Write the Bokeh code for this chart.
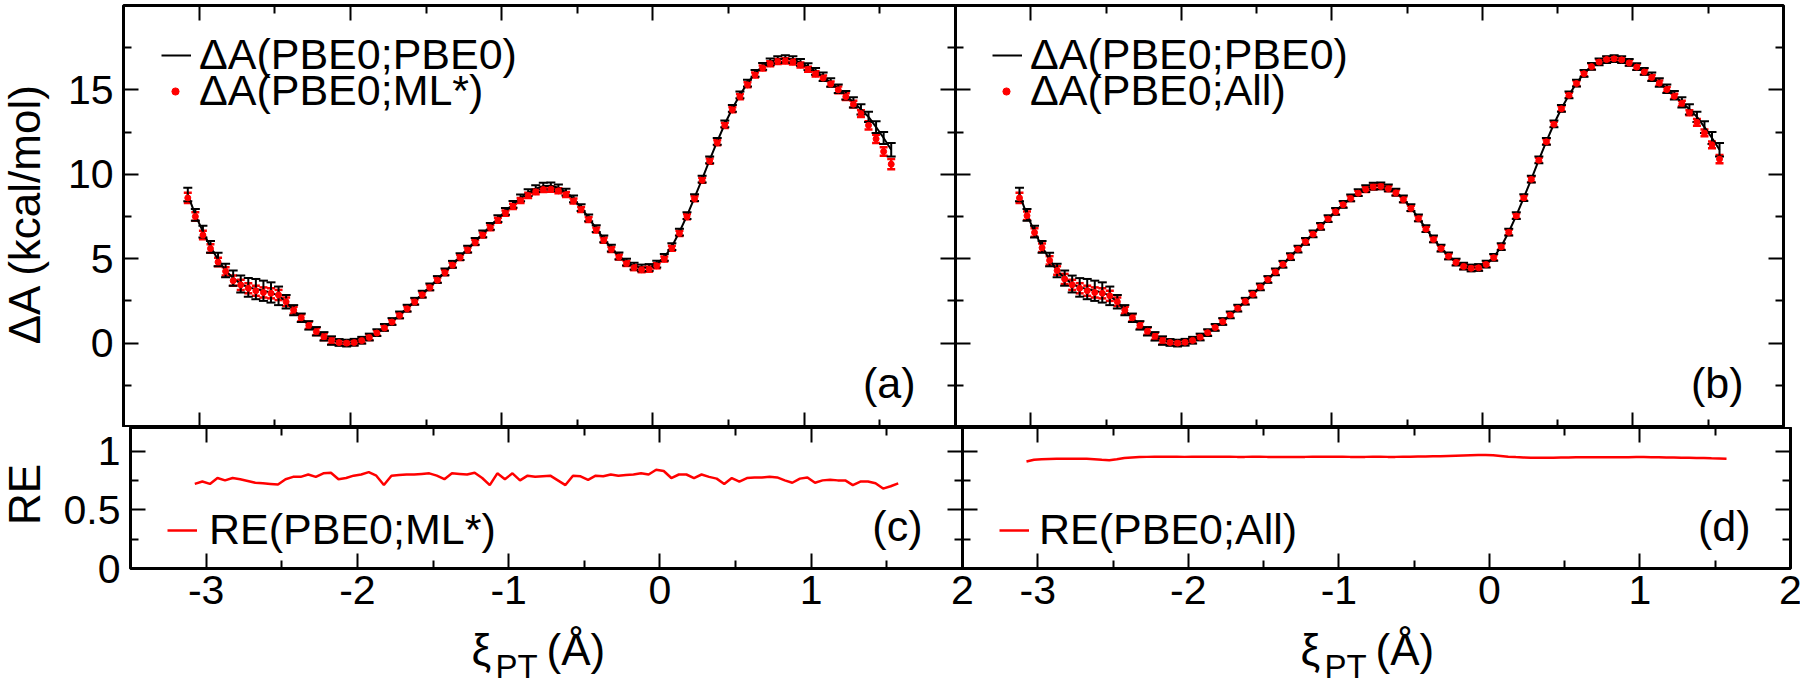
import math
from bokeh.plotting import figure
from bokeh.models import (Range1d, LinearAxis, FixedTicker, ColumnDataSource, Whisker,
                          TeeHead, Legend, LegendItem, Label)
from bokeh.layouts import column, row
from bokeh.embed import file_html
from bokeh.resources import INLINE

# ---------------- data ----------------
XI = [-3.075, -3.025, -2.975, -2.925, -2.875, -2.825, -2.775, -2.725, -2.675, -2.625,
      -2.575, -2.525, -2.475, -2.425, -2.375, -2.325, -2.275, -2.225, -2.175, -2.125,
      -2.075, -2.025, -1.975, -1.925, -1.875, -1.825, -1.775, -1.725, -1.675, -1.625,
      -1.575, -1.525, -1.475, -1.425, -1.375, -1.325, -1.275, -1.225, -1.175, -1.125,
      -1.075, -1.025, -0.975, -0.925, -0.875, -0.825, -0.775, -0.725, -0.675, -0.625,
      -0.575, -0.525, -0.475, -0.425, -0.375, -0.325, -0.275, -0.225, -0.175, -0.125,
      -0.075, -0.025, 0.025, 0.075, 0.125, 0.175, 0.225, 0.275, 0.325, 0.375,
      0.425, 0.475, 0.525, 0.575, 0.625, 0.675, 0.725, 0.775, 0.825, 0.875,
      0.925, 0.975, 1.025, 1.075, 1.125, 1.175, 1.225, 1.275, 1.325, 1.375,
      1.425, 1.475, 1.525, 1.575]

DA_PBE0 = [8.8, 7.6, 6.6, 5.7, 4.95, 4.3, 3.85, 3.5, 3.3, 3.2,
           3.1, 3.0, 2.8, 2.45, 1.95, 1.5, 1.05, 0.7, 0.4, 0.15,
           0.04, 0.0, 0.05, 0.17, 0.36, 0.62, 0.93, 1.28, 1.67, 2.07,
           2.48, 2.9, 3.33, 3.77, 4.22, 4.67, 5.12, 5.57, 6.02, 6.47,
           6.92, 7.37, 7.8, 8.22, 8.6, 8.92, 9.15, 9.3, 9.32, 9.2,
           8.95, 8.55, 8.02, 7.42, 6.78, 6.17, 5.62, 5.16, 4.8, 4.56,
           4.45, 4.48, 4.68, 5.08, 5.72, 6.58, 7.55, 8.62, 9.72, 10.85,
           11.95, 12.98, 13.9, 14.7, 15.4, 15.98, 16.4, 16.66, 16.8, 16.85,
           16.8, 16.63, 16.38, 16.1, 15.78, 15.44, 15.07, 14.68, 14.26, 13.85,
           13.4, 12.8, 12.15, 11.45]
DA_PBE0_ERR = [0.4, 0.35, 0.35, 0.35, 0.4, 0.4, 0.45, 0.5, 0.55, 0.6,
               0.6, 0.6, 0.55, 0.4, 0.3, 0.25, 0.25, 0.25, 0.25, 0.25,
               0.2, 0.2, 0.2, 0.2, 0.2, 0.2, 0.2, 0.2, 0.2, 0.2,
               0.2, 0.2, 0.2, 0.2, 0.2, 0.2, 0.2, 0.2, 0.2, 0.2,
               0.2, 0.2, 0.2, 0.2, 0.2, 0.2, 0.2, 0.2, 0.2, 0.2,
               0.2, 0.2, 0.2, 0.2, 0.2, 0.2, 0.2, 0.2, 0.2, 0.2,
               0.2, 0.2, 0.2, 0.2, 0.2, 0.2, 0.2, 0.2, 0.2, 0.2,
               0.2, 0.2, 0.2, 0.2, 0.2, 0.2, 0.2, 0.2, 0.2, 0.2,
               0.2, 0.2, 0.2, 0.2, 0.25, 0.25, 0.25, 0.25, 0.3, 0.3,
               0.3, 0.35, 0.35, 0.4]

DA_ML = [8.6, 7.5, 6.4, 5.6, 4.8, 4.25, 3.7, 3.45, 3.25, 3.1,
         3.0, 2.95, 2.85, 2.45, 1.95, 1.5, 1.05, 0.68, 0.38, 0.15,
         0.03, 0.0, 0.03, 0.15, 0.33, 0.6, 0.9, 1.25, 1.63, 2.03,
         2.44, 2.86, 3.29, 3.73, 4.17, 4.62, 5.07, 5.52, 5.96, 6.4,
         6.84, 7.28, 7.7, 8.1, 8.45, 8.75, 8.97, 9.1, 9.12, 9.02,
         8.8, 8.42, 7.92, 7.32, 6.7, 6.1, 5.55, 5.1, 4.72, 4.47,
         4.35, 4.38, 4.58, 4.98, 5.62, 6.5, 7.48, 8.55, 9.65, 10.78,
         11.87, 12.9, 13.82, 14.6, 15.3, 15.88, 16.3, 16.55, 16.68, 16.72,
         16.66, 16.48, 16.22, 15.95, 15.7, 15.35, 15.0, 14.6, 14.15, 13.6,
         12.9, 12.1, 11.35, 10.6]
DA_ML_ERR = [0.3, 0.25, 0.25, 0.25, 0.25, 0.25, 0.3, 0.3, 0.3, 0.3,
             0.3, 0.3, 0.3, 0.25, 0.2, 0.2, 0.2, 0.2, 0.2, 0.2,
             0.15, 0.15, 0.15, 0.15, 0.15, 0.15, 0.15, 0.15, 0.15, 0.15,
             0.15, 0.15, 0.15, 0.15, 0.15, 0.15, 0.15, 0.15, 0.15, 0.15,
             0.15, 0.15, 0.15, 0.15, 0.15, 0.15, 0.15, 0.15, 0.15, 0.15,
             0.15, 0.15, 0.15, 0.15, 0.15, 0.15, 0.15, 0.15, 0.15, 0.15,
             0.15, 0.15, 0.15, 0.15, 0.15, 0.15, 0.15, 0.15, 0.15, 0.15,
             0.15, 0.15, 0.15, 0.15, 0.15, 0.15, 0.15, 0.15, 0.15, 0.15,
             0.15, 0.15, 0.15, 0.15, 0.15, 0.15, 0.2, 0.2, 0.2, 0.2,
             0.25, 0.25, 0.25, 0.3]

DA_ALL = [8.6, 7.55, 6.55, 5.65, 4.9, 4.3, 3.8, 3.45, 3.25, 3.1,
          3.0, 2.95, 2.8, 2.45, 1.95, 1.5, 1.05, 0.7, 0.4, 0.15,
          0.04, 0.0, 0.05, 0.16, 0.35, 0.62, 0.92, 1.27, 1.66, 2.06,
          2.47, 2.89, 3.32, 3.76, 4.21, 4.66, 5.11, 5.56, 6.0, 6.45,
          6.9, 7.35, 7.78, 8.2, 8.57, 8.88, 9.1, 9.25, 9.28, 9.15,
          8.9, 8.5, 7.98, 7.38, 6.75, 6.14, 5.6, 5.14, 4.78, 4.54,
          4.43, 4.46, 4.66, 5.06, 5.7, 6.56, 7.53, 8.6, 9.7, 10.83,
          11.93, 12.96, 13.88, 14.68, 15.38, 15.96, 16.38, 16.65, 16.8, 16.84,
          16.78, 16.6, 16.35, 16.06, 15.74, 15.4, 15.02, 14.62, 14.2, 13.65,
          13.08, 12.45, 11.75, 10.9]
DA_ALL_ERR = [0.3, 0.25, 0.25, 0.25, 0.25, 0.25, 0.3, 0.3, 0.3, 0.3,
              0.3, 0.3, 0.3, 0.25, 0.2, 0.2, 0.2, 0.2, 0.2, 0.2,
              0.15, 0.15, 0.15, 0.15, 0.15, 0.15, 0.15, 0.15, 0.15, 0.15,
              0.15, 0.15, 0.15, 0.15, 0.15, 0.15, 0.15, 0.15, 0.15, 0.15,
              0.15, 0.15, 0.15, 0.15, 0.15, 0.15, 0.15, 0.15, 0.15, 0.15,
              0.15, 0.15, 0.15, 0.15, 0.15, 0.15, 0.15, 0.15, 0.15, 0.15,
              0.15, 0.15, 0.15, 0.15, 0.15, 0.15, 0.15, 0.15, 0.15, 0.15,
              0.15, 0.15, 0.15, 0.15, 0.15, 0.15, 0.15, 0.15, 0.15, 0.15,
              0.15, 0.15, 0.15, 0.15, 0.15, 0.15, 0.15, 0.15, 0.15, 0.15,
              0.2, 0.2, 0.2, 0.25]

RE_ML = [0.72, 0.74, 0.72, 0.77, 0.75, 0.77, 0.76, 0.745, 0.73, 0.725,
         0.72, 0.715, 0.76, 0.78, 0.78, 0.80, 0.78, 0.81, 0.815, 0.76,
         0.77, 0.79, 0.80, 0.82, 0.79, 0.71, 0.79, 0.795, 0.80, 0.80,
         0.805, 0.81, 0.79, 0.76, 0.81, 0.805, 0.80, 0.815, 0.77, 0.71,
         0.81, 0.76, 0.81, 0.75, 0.79, 0.78, 0.785, 0.79, 0.75, 0.71,
         0.79, 0.785, 0.755, 0.79, 0.785, 0.80, 0.79, 0.795, 0.80, 0.81,
         0.80, 0.84, 0.83, 0.77, 0.80, 0.80, 0.77, 0.80, 0.78, 0.765,
         0.72, 0.77, 0.74, 0.77, 0.775, 0.775, 0.78, 0.775, 0.75, 0.73,
         0.765, 0.775, 0.73, 0.75, 0.755, 0.75, 0.75, 0.71, 0.74, 0.74,
         0.725, 0.68, 0.70, 0.725]

RE_ALL = [0.91, 0.925, 0.93, 0.932, 0.933, 0.934, 0.934, 0.933, 0.933, 0.93,
          0.925, 0.922, 0.93, 0.94, 0.945, 0.948, 0.95, 0.951, 0.952, 0.952,
          0.951, 0.95, 0.951, 0.952, 0.952, 0.952, 0.951, 0.951, 0.95, 0.95,
          0.951, 0.951, 0.95, 0.95, 0.949, 0.949, 0.95, 0.95, 0.951, 0.951,
          0.952, 0.952, 0.951, 0.95, 0.95, 0.95, 0.951, 0.951, 0.95, 0.95,
          0.951, 0.952, 0.953, 0.954, 0.955, 0.956, 0.958, 0.96, 0.962, 0.964,
          0.965, 0.966, 0.963, 0.958, 0.952, 0.948, 0.945, 0.943, 0.942, 0.942,
          0.943, 0.944, 0.945, 0.946, 0.946, 0.947, 0.947, 0.947, 0.946, 0.946,
          0.947, 0.948, 0.948, 0.947, 0.946, 0.945, 0.944, 0.943, 0.942, 0.941,
          0.94, 0.938, 0.937, 0.935]

X_MAJOR = [-3, -2, -1, 0, 1, 2]
X_LABELS = ["-3", "-2", "-1", "0", "1", "2"]
X_MINOR = [-3.5, -2.5, -1.5, -0.5, 0.5, 1.5]
DA_MAJOR = [0, 5, 10, 15]
DA_LABELS = ["0", "5", "10", "15"]
DA_MINOR = [-2.5, 2.5, 7.5, 12.5, 17.5]
RE_MAJOR = [0, 0.5, 1]
RE_LABELS = ["0", "0.5", "1"]
RE_MINOR = [0.25, 0.75]

X_RANGE = (-3.5, 2.0)
DA_RANGE = (-5.0, 20.0)
RE_RANGE = (0.0, 1.2)

# ---------------- style / layout ----------------
FONT = "Liberation Sans"
RED = "#ff0000"
TICK_FS = "41px"
TEXT_FS = "43px"
YSTRIP_W = 60
FRAME_WL = 832
FRAME_WR = 828
RIGHT_BORDER = 17
TOP_BORDER = 5
FRAME_HT = 422
FRAME_HB = 141
BOT_BORDER = 62
XSTRIP_H = 64
XSTRIP_OVERLAP = 8
BASE_CORR = 16  # empirical shift of the alphabetic baseline of Label


def make_fig(frame_w, frame_h, yr, left, right, top, bottom, shift=False):
    kw = {}
    if shift:
        kw["margin"] = (0, 0, 0, -20)
    p = figure(frame_width=frame_w, frame_height=frame_h,
               x_range=Range1d(*X_RANGE), y_range=Range1d(*yr),
               x_axis_location=None, y_axis_location=None,
               toolbar_location=None, output_backend="svg",
               min_border_left=left, min_border_right=right,
               min_border_top=top, min_border_bottom=bottom, **kw)
    p.grid.visible = False
    p.outline_line_color = "black"
    p.outline_line_width = 3
    p.outline_line_alpha = 1.0
    p.border_fill_color = None
    p.background_fill_color = None
    return p


def strip(w, h, **kw):
    p = figure(width=w, height=h, x_range=Range1d(0, 1), y_range=Range1d(0, 1),
               x_axis_location=None, y_axis_location=None, toolbar_location=None,
               output_backend="svg", min_border=0, **kw)
    p.grid.visible = False
    p.outline_line_color = None
    p.border_fill_color = None
    p.background_fill_color = None
    return p


def style_axis(ax):
    ax.axis_line_color = None
    ax.major_tick_out = 0
    ax.minor_tick_out = 0
    ax.major_tick_line_color = "black"
    ax.minor_tick_line_color = "black"
    ax.major_tick_line_width = 2
    ax.minor_tick_line_width = 2


def labeled_axis(p, side, major, minor, labels, standoff):
    ax = LinearAxis(ticker=FixedTicker(ticks=major, minor_ticks=minor),
                    major_label_overrides={v: s for v, s in zip(major, labels)})
    style_axis(ax)
    ax.major_tick_in = 15
    ax.minor_tick_in = 8
    ax.major_label_text_font = FONT
    ax.major_label_text_font_size = TICK_FS
    ax.major_label_text_color = "black"
    ax.major_label_standoff = standoff
    p.add_layout(ax, side)


def mirror_axis(p, side, major, minor):
    for ticks, length in ((major, 15), (minor, 8)):
        ax = LinearAxis(ticker=FixedTicker(ticks=[], minor_ticks=ticks))
        style_axis(ax)
        ax.major_tick_in = 0
        ax.minor_tick_in = length
        p.add_layout(ax, side)


def text_label(p, x, y, text, size=TEXT_FS, align="left", angle=0.0):
    p.add_layout(Label(x=x, y=y, x_units="screen", y_units="screen", text=text,
                       angle=angle, text_align=align, text_baseline="alphabetic",
                       text_font=FONT, text_font_size=size, text_color="black"))


def one_legend(p, label, renderer, x, y, standoff, glyph_w=30):
    # location = bottom-left corner of the legend box (frame coords, y up)
    lg = Legend(items=[LegendItem(label=label, renderers=[renderer])],
                location=(x, y), orientation="vertical",
                label_text_font=FONT, label_text_font_size=TEXT_FS,
                label_text_color="black", glyph_width=glyph_w, glyph_height=38,
                label_height=38, label_standoff=standoff, spacing=0, padding=0,
                margin=0, border_line_color=None, background_fill_alpha=0)
    p.add_layout(lg)


def add_da(p, frame_w, red_vals, red_err, red_label, panel_text, x_leg):
    src_b = ColumnDataSource(dict(x=XI, y=DA_PBE0,
                                  lo=[v - e for v, e in zip(DA_PBE0, DA_PBE0_ERR)],
                                  hi=[v + e for v, e in zip(DA_PBE0, DA_PBE0_ERR)]))
    src_r = ColumnDataSource(dict(x=XI, y=red_vals,
                                  lo=[v - e for v, e in zip(red_vals, red_err)],
                                  hi=[v + e for v, e in zip(red_vals, red_err)]))
    line_b = p.line("x", "y", source=src_b, line_color="black", line_width=2)
    wb = Whisker(base="x", lower="lo", upper="hi", source=src_b, dimension="height",
                 line_color="black", line_width=2, level="glyph",
                 upper_head=TeeHead(size=9, line_color="black", line_width=2),
                 lower_head=TeeHead(size=9, line_color="black", line_width=2))
    p.add_layout(wb)
    wr = Whisker(base="x", lower="lo", upper="hi", source=src_r, dimension="height",
                 line_color=RED, line_width=2.5,
                 upper_head=TeeHead(size=8, line_color=RED, line_width=2.5),
                 lower_head=TeeHead(size=8, line_color=RED, line_width=2.5))
    p.add_layout(wr)
    pts = p.scatter("x", "y", source=src_r, size=6, marker="circle",
                    fill_color=RED, line_color=RED, level="overlay")
    one_legend(p, "ΔA(PBE0;PBE0)", line_b, x_leg, FRAME_HT - 74, 8)
    one_legend(p, red_label, pts, x_leg + 5, FRAME_HT - 110, 15, glyph_w=18)
    text_label(p, frame_w - 40, 29 + BASE_CORR, panel_text, align="right")


def add_re(p, frame_w, vals, label, panel_text, x_leg, standoff):
    src = ColumnDataSource(dict(x=XI, y=vals))
    r = p.line("x", "y", source=src, line_color=RED, line_width=2.5)
    one_legend(p, label, r, x_leg, 14, standoff)
    text_label(p, frame_w - 40, 27 + BASE_CORR, panel_text, align="right")


# ---------------- axis-title strips ----------------
YS_H = TOP_BORDER + FRAME_HT + FRAME_HB + BOT_BORDER
ys = strip(YSTRIP_W, YS_H)
text_label(ys, 40 - BASE_CORR, YS_H - 213, "ΔA (kcal/mol)", size="44px", align="center",
           angle=math.pi / 2)
text_label(ys, 40 - BASE_CORR, YS_H - 494, "RE", size="44px", align="center",
           angle=math.pi / 2)

xs = strip(1800, XSTRIP_H, margin=(-XSTRIP_OVERLAP, 0, 0, 0))
for x0 in (YSTRIP_W + 63 + 348, YSTRIP_W + 63 + FRAME_WL + 345):
    text_label(xs, x0, 21 + BASE_CORR, "ξ", size="44px")
    text_label(xs, x0 + 24, 4 + BASE_CORR, "PT", size="33px")
    text_label(xs, x0 + 75, 21 + BASE_CORR, "(Å)", size="44px")

# ---------------- panel (a) ----------------
pa = make_fig(FRAME_WL, FRAME_HT, DA_RANGE, 123 - YSTRIP_W, 20, TOP_BORDER, 0)
labeled_axis(pa, "left", DA_MAJOR, DA_MINOR, DA_LABELS, 10)
mirror_axis(pa, "right", DA_MAJOR, DA_MINOR)
mirror_axis(pa, "above", X_MAJOR, X_MINOR)
mirror_axis(pa, "below", X_MAJOR, X_MINOR)
add_da(pa, FRAME_WL, DA_ML, DA_ML_ERR, "ΔA(PBE0;ML*)", "(a)", 38)

# ---------------- panel (b) ----------------
pb = make_fig(FRAME_WR, FRAME_HT, DA_RANGE, 0, RIGHT_BORDER, TOP_BORDER, 0, shift=True)
mirror_axis(pb, "left", DA_MAJOR, DA_MINOR)
mirror_axis(pb, "right", DA_MAJOR, DA_MINOR)
mirror_axis(pb, "above", X_MAJOR, X_MINOR)
mirror_axis(pb, "below", X_MAJOR, X_MINOR)
add_da(pb, FRAME_WR, DA_ALL, DA_ALL_ERR, "ΔA(PBE0;All)", "(b)", 37)

# ---------------- panel (c) ----------------
pc = make_fig(FRAME_WL, FRAME_HB, RE_RANGE, 123 - YSTRIP_W, 20, 0, BOT_BORDER)
labeled_axis(pc, "left", RE_MAJOR, RE_MINOR, RE_LABELS, 10)
labeled_axis(pc, "below", X_MAJOR, X_MINOR, X_LABELS, 7)
mirror_axis(pc, "right", RE_MAJOR, RE_MINOR)
mirror_axis(pc, "above", X_MAJOR, X_MINOR)
add_re(pc, FRAME_WL, RE_ML, "RE(PBE0;ML*)", "(c)", 37, 12)

# ---------------- panel (d) ----------------
pd_ = make_fig(FRAME_WR, FRAME_HB, RE_RANGE, 0, RIGHT_BORDER, 0, BOT_BORDER, shift=True)
labeled_axis(pd_, "below", X_MAJOR, X_MINOR, X_LABELS, 7)
mirror_axis(pd_, "left", RE_MAJOR, RE_MINOR)
mirror_axis(pd_, "right", RE_MAJOR, RE_MINOR)
mirror_axis(pd_, "above", X_MAJOR, X_MINOR)
add_re(pd_, FRAME_WR, RE_ALL, "RE(PBE0;All)", "(d)", 37, 10)

panels = column(row(pa, pb), row(pc, pd_))
layout = column(row(ys, panels), xs)
open("out.html", "w").write(file_html(layout, INLINE))
